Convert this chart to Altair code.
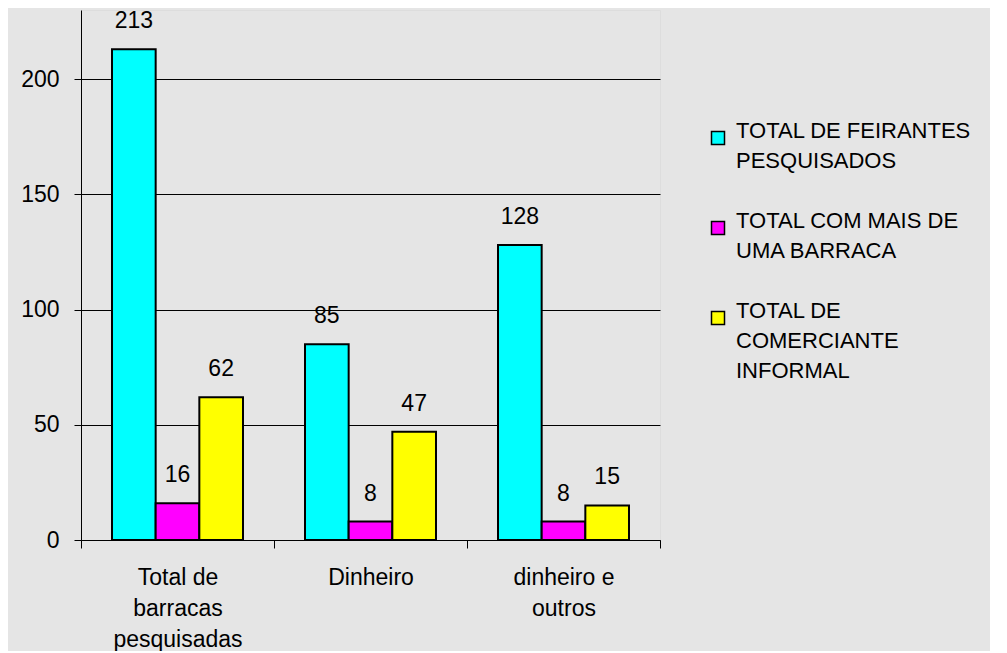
import altair as alt
import pandas as pd

categories = ["Total de|barracas|pesquisadas", "Dinheiro", "dinheiro e|outros"]
series = ["TOTAL DE FEIRANTES|PESQUISADOS", "TOTAL COM MAIS DE|UMA BARRACA", "TOTAL DE|COMERCIANTE|INFORMAL"]
feirantes = [213, 85, 128]
mais_barraca = [16, 8, 8]
informal = [62, 47, 15]
colors = ["#00FFFF", "#FF00FF", "#FFFF00"]
y_ticks = [0, 50, 100, 150, 200]

rows = []
for s, vals in zip(series, [feirantes, mais_barraca, informal]):
    for c, v in zip(categories, vals):
        rows.append({"categoria": c, "serie": s, "valor": v})
df = pd.DataFrame(rows)

FONT = "Liberation Sans"

x = alt.X(
    "categoria:N",
    sort=categories,
    scale=alt.Scale(paddingInner=0, paddingOuter=0),
    axis=alt.Axis(
        title=None,
        labelExpr="split(datum.label, '|')",
        labelAngle=0,
        labelFontSize=23,
        labelLineHeight=31,
        labelColor="#000",
        labelPadding=18,
        tickBand="extent",
        tickSize=8,
        tickColor="#000",
        domainColor="#000",
        labelFont=FONT,
    ),
)
xo = alt.XOffset("serie:N", sort=series, scale=alt.Scale(paddingInner=0, paddingOuter=0.71))
y = alt.Y(
    "valor:Q",
    scale=alt.Scale(domain=[0, 230], nice=False),
    axis=alt.Axis(
        values=y_ticks,
        title=None,
        grid=True,
        gridColor="#000",
        gridOpacity=1,
        labelFontSize=23,
        labelColor="#000",
        labelPadding=15,
        tickSize=7,
        tickColor="#000",
        domainColor="#000",
        labelFont=FONT,
    ),
)

bars = alt.Chart(df).mark_bar(stroke="#000", strokeWidth=2).encode(
    x=x,
    xOffset=xo,
    y=y,
    color=alt.Color(
        "serie:N",
        sort=series,
        scale=alt.Scale(domain=series, range=colors),
        legend=alt.Legend(
            title=None,
            orient="none",
            legendX=626,
            legendY=117,
            padding=0,
            symbolType="square",
            symbolSize=169,
            symbolStrokeColor="#000",
            symbolStrokeWidth=1.5,
            labelExpr="split(datum.label, '|')",
            labelFontSize=22,
            labelFont=FONT,
            labelColor="#000",
            labelBaseline="alphabetic",
            labelOffset=7,
            labelLimit=400,
            rowPadding=38,
        ),
    ),
)

labels = alt.Chart(df).mark_text(
    baseline="alphabetic", dy=-21, fontSize=23, font=FONT, color="#000"
).encode(x=x, xOffset=xo, y=y, text="valor:Q")

chart = (
    alt.layer(bars, labels)
    .properties(
        width=579,
        height=530,
        background="#e5e5e5",
        autosize=alt.AutoSizeParams(type="none"),
        padding={"left": 73, "top": 2, "right": 330, "bottom": 111},
    )
    .configure_view(stroke=None)
    .configure(style={"guide-label": alt.MarkConfig(lineHeight=30)})
)

chart.save("out.html", embed_options={"renderer": "svg", "actions": False})
